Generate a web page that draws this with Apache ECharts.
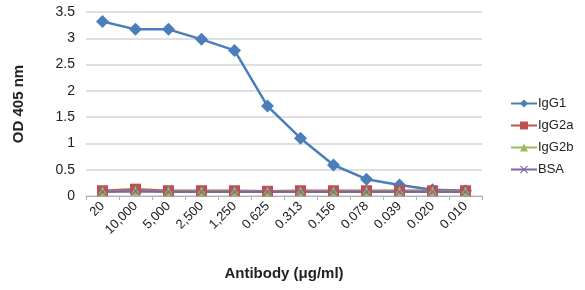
<!DOCTYPE html>
<html lang="en">
<head>
    <meta charset="utf-8">
    <title>Antibody ELISA</title>
    <script src="https://cdn.jsdelivr.net/npm/echarts@6/dist/echarts.min.js"></script>
    <style>
        html, body { margin: 0; padding: 0; background: #fff; }
    </style>
</head>
<body>
<div id="main" style="width: 585px;height: 290px"></div>
<script type="text/javascript">
    // data
    var concentrations = ['20', '10,000', '5,000', '2,500', '1,250', '0.625', '0.313', '0.156', '0.078', '0.039', '0.020', '0.010'];
    var igg1  = [3.32, 3.17, 3.17, 2.98, 2.77, 1.71, 1.10, 0.59, 0.32, 0.21, 0.12, 0.10];
    var igg2a = [0.10, 0.13, 0.10, 0.10, 0.10, 0.09, 0.10, 0.10, 0.10, 0.10, 0.10, 0.10];
    var igg2b = [0.09, 0.10, 0.09, 0.09, 0.09, 0.08, 0.09, 0.09, 0.09, 0.09, 0.09, 0.09];
    var bsa   = [0.08, 0.09, 0.08, 0.08, 0.08, 0.08, 0.08, 0.08, 0.08, 0.08, 0.08, 0.08];

    var font = 'Liberation Sans, Arial, sans-serif';
    var cross = 'path://M0,1L1,0L5,4L9,0L10,1L6,5L10,9L9,10L5,6L1,10L0,9L4,5Z';
    var myChart = echarts.init(document.getElementById('main'));

    function line(name, data, color, symbol, size) {
        return {
            name: name,
            type: 'line',
            data: data,
            symbol: symbol,
            symbolSize: size,
            lineStyle: { color: color, width: 2.5 },
            itemStyle: { color: color },
            animation: false
        };
    }

    var option = {
        textStyle: { fontFamily: font },
        legend: {
            orient: 'vertical',
            left: 505,
            top: 92,
            itemGap: 9,
            itemWidth: 26,
            itemHeight: 10,
            textStyle: { fontSize: 13, color: '#222', padding: [0, 0, 0, -4] },
            data: ['IgG1', 'IgG2a', 'IgG2b', 'BSA']
        },
        grid: { left: 86, right: 103, top: 12, bottom: 94 },
        xAxis: {
            type: 'category',
            data: concentrations,
            name: 'Antibody (μg/ml)',
            nameLocation: 'middle',
            nameGap: 70,
            nameTextStyle: { fontSize: 15, fontWeight: 'bold', color: '#222' },
            axisLine: { lineStyle: { color: '#b0b0b0' } },
            axisTick: { show: true, length: 4, lineStyle: { color: '#b0b0b0' } },
            axisLabel: { rotate: 45, fontSize: 13, color: '#222', margin: 8 }
        },
        yAxis: {
            type: 'value',
            min: 0,
            max: 3.5,
            interval: 0.5,
            name: 'OD 405 nm',
            nameLocation: 'middle',
            nameGap: 60,
            nameTextStyle: { fontSize: 15, fontWeight: 'bold', color: '#222' },
            axisLine: { show: false },
            axisTick: { show: false },
            axisLabel: { fontSize: 14, color: '#222', margin: 11 },
            splitLine: { lineStyle: { color: '#d4d4d4', width: 1.5 } }
        },
        series: [
            line('IgG1', igg1, '#4a7ebb', 'diamond', 13),
            line('IgG2a', igg2a, '#c0504d', 'rect', 11),
            line('IgG2b', igg2b, '#9bbb59', 'triangle', 10),
            line('BSA', bsa, '#8064a2', cross, 9)
        ]
    };
    myChart.setOption(option);
</script>
</body>
</html>
